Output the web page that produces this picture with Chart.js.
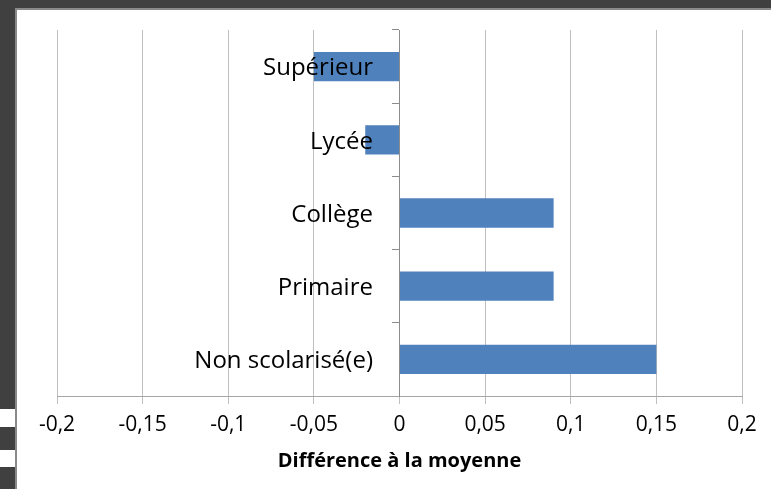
<!DOCTYPE html>
<html lang="fr">
<head>
  <meta charset="utf-8" />
  <title>Différence à la moyenne</title>
  <script src="https://cdn.jsdelivr.net/npm/chart.js"></script>
  <style>
    html, body {
      margin: 0;
      width: 771px;
      height: 489px;
      overflow: hidden;
      background-color: #404040;
      font-family: "Open Sans", sans-serif;
    }
    .panel {
      position: absolute;
      left: 15px; top: 8px; right: 0; bottom: 0;
      background: #fff;
      border-left: 2px solid #8a8a8a;
      border-top: 2px solid #8a8a8a;
    }
    .strip {
      position: absolute;
      left: 0; width: 15px;
      background: #fff;
    }
    #wrap {
      position: absolute;
      left: 0; top: 0;
      width: 771px; height: 489px;
    }
  </style>
</head>
<body>
  <div class="panel"></div>
  <div class="strip" style="top:409px;height:18px"></div>
  <div class="strip" style="top:450px;height:17px"></div>
  <div id="wrap"><canvas id="chart"></canvas></div>

  <script>
    const categories = ['Supérieur', 'Lycée', 'Collège', 'Primaire', 'Non scolarisé(e)'];
    const diffValues = [-0.05, -0.02, 0.09, 0.09, 0.15];
    const tickLabels = ['-0,2', '-0,15', '-0,1', '-0,05', '0', '0,05', '0,1', '0,15', '0,2'];

    // category labels sit a little left of the zero axis, on top of the bars
    const labelAnchor = -0.0155;

    const ctx = document.getElementById('chart').getContext('2d');
    new Chart(ctx, {
      type: 'bar',
      data: {
        labels: categories,
        datasets: [{
          data: diffValues,
          backgroundColor: '#4f81bd',
          borderWidth: 0,
          categoryPercentage: 1,
          barPercentage: 0.4
        }]
      },
      options: {
        indexAxis: 'y',
        responsive: true,
        maintainAspectRatio: false,
        animation: false,
        layout: { padding: { left: 57, right: 29, top: 30, bottom: 0 } },
        plugins: {
          legend: { display: false },
          tooltip: { enabled: false }
        },
        scales: {
          x: {
            min: -0.2,
            max: 0.2,
            afterFit: s => { s.height = 93; },
            ticks: {
              stepSize: 0.05,
              color: '#000',
              padding: 8,
              font: { family: 'Open Sans', size: 21 },
              callback: (v, i) => tickLabels[i]
            },
            grid: { color: '#bfbfbf', tickLength: 8 },
            border: { color: '#a6a6a6' },
            title: {
              display: true,
              text: 'Différence à la moyenne',
              color: '#000',
              font: { family: 'Open Sans', size: 20, weight: 'bold' },
              padding: { top: 4, bottom: 16 }
            }
          },
          y: {
            position: { x: 0 },
            ticks: { display: false },
            grid: { drawOnChartArea: false, tickLength: 7, color: '#8c8c8c' },
            border: { color: '#8c8c8c' }
          },
          yLabels: {
            type: 'category',
            axis: 'y',
            labels: categories,
            offset: true,
            position: { x: labelAnchor },
            ticks: {
              z: 1,
              color: '#000',
              padding: 0,
              labelOffset: 2,
              font: { family: 'Open Sans', size: 24 }
            },
            grid: { display: false, drawTicks: false },
            border: { display: false }
          }
        }
      }
    });
  </script>
</body>
</html>
